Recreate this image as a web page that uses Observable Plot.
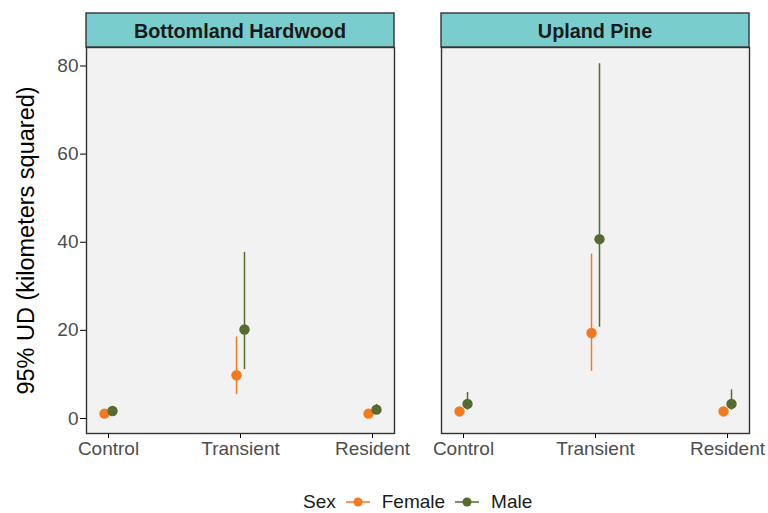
<!DOCTYPE html>
<html>
<head>
<meta charset="utf-8">
<script src="https://cdn.jsdelivr.net/npm/d3@7"></script>
<script src="https://cdn.jsdelivr.net/npm/@observablehq/plot@0.6"></script>
<style>
  body { margin: 0; background: #fff; font-family: "Liberation Sans", Arial, sans-serif; }
  #wrap { position: relative; width: 768px; height: 513px; }
  #chart svg { display: block; }
  g[aria-label="y-axis tick"], g[aria-label="x-axis tick"] { stroke: #333; }
  g[aria-label="y-axis tick label"], g[aria-label="x-axis tick label"] { fill: #4d4d4d; }
  g[aria-label="y-axis label"] text { font-size: 23.5px; fill: #000; }
  #legend { position: absolute; left: 303px; top: 489px; height: 26px; display: flex; align-items: center;
            font-size: 19px; color: #1a1a1a; }
  #legend .sw { display: block; margin: 0 12px 0 10px; }
</style>
</head>
<body>
<div id="wrap">
  <div id="chart"></div>
  <div id="legend"></div>
</div>
<script>
// Facets, categories and groups
const habitats = ["Bottomland Hardwood", "Upland Pine"];
const treatments = ["Control", "Transient", "Resident"];
const sexes = ["Female", "Male"];
const sexColors = ["#F47A20", "#556B2F"];

// 95% UD area estimates (km²) with interval bounds, ordered as treatments
const bhFemaleEst = [1.1, 9.8, 1.1];
const bhFemaleLo  = [0.7, 5.4, 0.7];
const bhFemaleHi  = [1.6, 18.5, 1.6];
const bhMaleEst   = [1.7, 20.2, 2.0];
const bhMaleLo    = [1.1, 11.1, 1.3];
const bhMaleHi    = [2.6, 37.7, 3.2];
const upFemaleEst = [1.6, 19.4, 1.6];
const upFemaleLo  = [1.0, 10.7, 1.0];
const upFemaleHi  = [2.4, 37.3, 2.5];
const upMaleEst   = [3.3, 40.7, 3.3];
const upMaleLo    = [1.9, 20.7, 1.9];
const upMaleHi    = [5.9, 80.5, 6.5];

const yTicks = [0, 20, 40, 60, 80];

// Long-format table for Plot
const series = [
  [habitats[0], "Female", bhFemaleEst, bhFemaleLo, bhFemaleHi],
  [habitats[0], "Male",   bhMaleEst,   bhMaleLo,   bhMaleHi],
  [habitats[1], "Female", upFemaleEst, upFemaleLo, upFemaleHi],
  [habitats[1], "Male",   upMaleEst,   upMaleLo,   upMaleHi]
];
const rows = series.flatMap(([habitat, sex, est, lo, hi]) =>
  treatments.map((treatment, i) => ({habitat, sex, treatment, est: est[i], lo: lo[i], hi: hi[i]}))
);

// Small horizontal dodge between the two sexes
const dodge = {Female: -4, Male: 4};

const marginTop = 47;
const stripHeight = 34;

const chart = Plot.plot({
  width: 768,
  height: 475,
  marginLeft: 86,
  marginRight: 19,
  marginTop,
  marginBottom: 42,
  style: {fontFamily: "'Liberation Sans', Arial, sans-serif", fontSize: "19px", background: "#fff", overflow: "visible"},
  fx: {domain: habitats, paddingInner: 0.1324, paddingOuter: 0, axis: null},
  x: {domain: treatments, type: "point", padding: 0.158},
  y: {domain: [-3.41, 84.2]},
  color: {domain: sexes, range: sexColors},
  marks: [
    Plot.frame({fill: "#f2f2f2"}),
    Plot.axisY({ticks: yTicks, tickSize: 6, tickPadding: 2, label: "95% UD (kilometers squared)",
                labelAnchor: "center", labelArrow: "none", labelOffset: 69}),
    Plot.axisX({tickSize: 5, tickPadding: 3, label: null}),
    ...sexes.map(s => Plot.ruleX(rows.filter(d => d.sex === s), {
      fx: "habitat", x: "treatment", y1: "lo", y2: "hi", stroke: "sex", strokeWidth: 1.5, dx: dodge[s]
    })),
    ...sexes.map(s => Plot.dot(rows.filter(d => d.sex === s), {
      fx: "habitat", x: "treatment", y: "est", fill: "sex", r: 5.2, dx: dodge[s]
    })),
    Plot.frame({stroke: "#333", strokeWidth: 1.4})
  ]
});

document.getElementById("chart").append(chart);

// Facet strips across the top of each panel
const fx = chart.scale("fx");
const svg = d3.select(chart);
const strips = svg.append("g").attr("aria-label", "facet strips");
for (const h of habitats) {
  const x0 = fx.apply(h);
  const w = fx.bandwidth;
  strips.append("rect")
    .attr("x", x0).attr("y", marginTop - stripHeight)
    .attr("width", w).attr("height", stripHeight)
    .attr("fill", "#79CDCD").attr("stroke", "#333").attr("stroke-width", 1.4);
  strips.append("text")
    .attr("x", x0 + w / 2).attr("y", marginTop - stripHeight / 2)
    .attr("dy", "0.42em").attr("text-anchor", "middle")
    .attr("font-weight", "bold").attr("font-size", 19.8).attr("fill", "#1a1a1a")
    .text(h);
}

// Legend: line-and-point swatches keyed by sex
const color = chart.scale("color");
const legend = d3.select("#legend");
legend.append("span").text("Sex");
for (const s of sexes) {
  const c = color.apply(s);
  const sw = legend.append("svg").attr("class", "sw").attr("width", 24).attr("height", 12);
  sw.append("line").attr("x1", 0).attr("x2", 24).attr("y1", 6).attr("y2", 6)
    .attr("stroke", c).attr("stroke-width", 1.5);
  sw.append("circle").attr("cx", 12).attr("cy", 6).attr("r", 4.5).attr("fill", c);
  legend.append("span").text(s);
}
</script>
</body>
</html>
